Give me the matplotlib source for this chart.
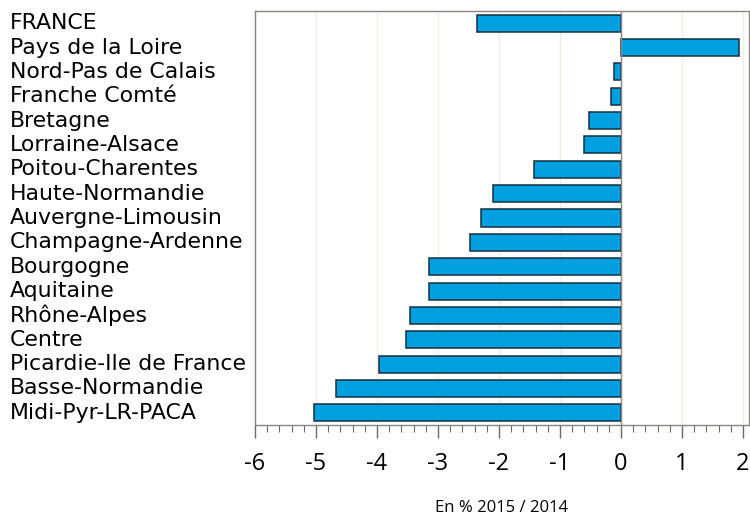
import matplotlib
matplotlib.use("Agg")
import matplotlib.pyplot as plt
import matplotlib.transforms as mtransforms
from matplotlib.ticker import MultipleLocator

# regions, top to bottom
regions = ["FRANCE", "Pays de la Loire", "Nord-Pas de Calais", "Franche Comté",
           "Bretagne", "Lorraine-Alsace", "Poitou-Charentes", "Haute-Normandie",
           "Auvergne-Limousin", "Champagne-Ardenne", "Bourgogne", "Aquitaine",
           "Rhône-Alpes", "Centre", "Picardie-Ile de France", "Basse-Normandie",
           "Midi-Pyr-LR-PACA"]
values = [-2.36, 1.93, -0.12, -0.16, -0.52, -0.61, -1.43, -2.09, -2.30, -2.48,
          -3.14, -3.15, -3.46, -3.52, -3.96, -4.68, -5.04]
xticks = [-6, -5, -4, -3, -2, -1, 0, 1, 2]

plt.rcParams['font.family'] = ['DejaVu Sans']

fig = plt.figure(figsize=(7.5, 5.17), dpi=100)
ax = fig.add_axes([0.34, 0.178, 0.6587, 0.8007])

ypos = list(range(len(regions)))[::-1]
ax.barh(ypos, values, height=0.7, color="#009fe0", edgecolor="#13303f", linewidth=1.1, zorder=3)

ax.set_xlim(-6, 2.1)
ax.set_ylim(-0.5, len(regions) - 0.5)

# grid and zero line
for x in xticks:
    ax.axvline(x, color="#efeedd", linewidth=1, zorder=1)
ax.axvline(0, color="#8a8a8a", linewidth=1, zorder=4)

for s in ax.spines.values():
    s.set_color("#8a8580")
    s.set_linewidth(1)

ax.set_yticks([])
ax.set_xticks(xticks)
ax.set_xticklabels([str(x) for x in xticks], fontfamily="Open Sans", fontsize=17)
ax.xaxis.set_minor_locator(MultipleLocator(0.2))
ax.tick_params(axis='x', which='major', length=9.5, width=1, color="#6e6a62", pad=10)
ax.tick_params(axis='x', which='minor', length=5, width=0.8, color="#6e6a62")

# labels on the left, left-aligned
trans = mtransforms.blended_transform_factory(fig.transFigure, ax.transData)
for y, name in zip(ypos, regions):
    ax.text(0.013, y, name, transform=trans, ha="left", va="center", fontsize=15.8, clip_on=False)

fig.text(0.669, 0.002, "En % 2015 / 2014", ha="center", va="bottom", fontsize=12, fontfamily="Open Sans")

fig.savefig("out.png", dpi=100)
